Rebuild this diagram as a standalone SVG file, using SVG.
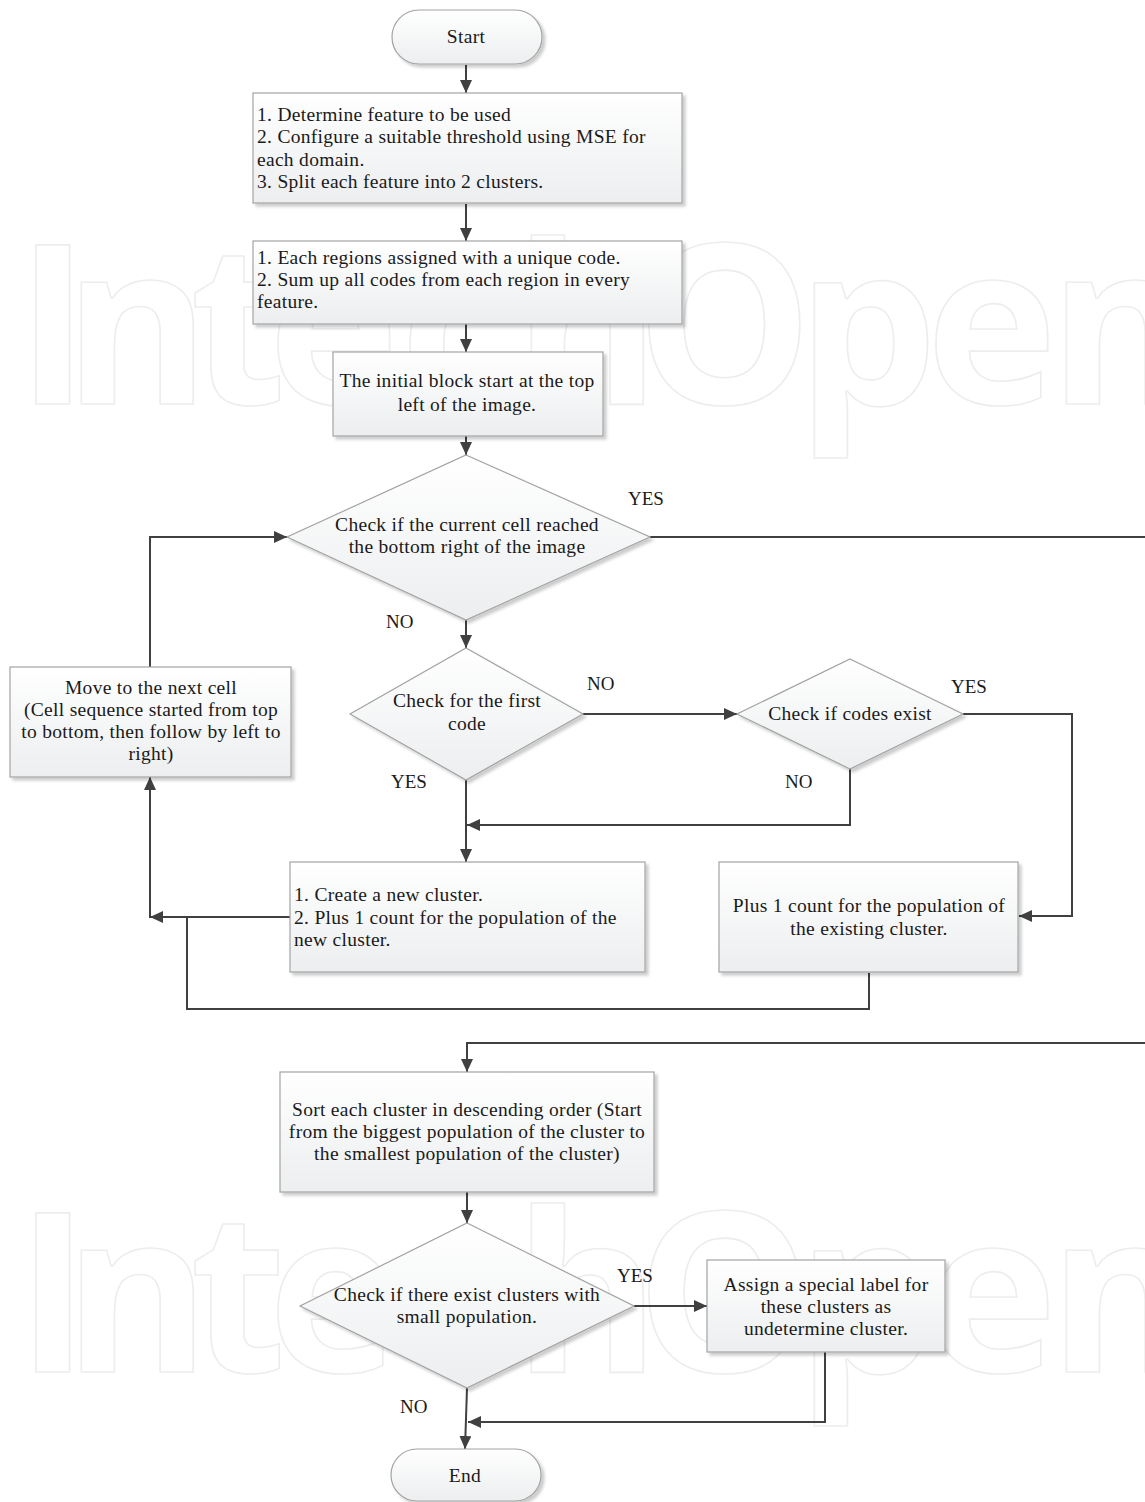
<svg xmlns="http://www.w3.org/2000/svg" width="1145" height="1502" viewBox="0 0 1145 1502">
<style>
.wm{font-family:"Open Sans","DejaVu Sans",sans-serif;font-weight:700;font-size:222px;fill:none;stroke:#ededed;stroke-width:1.6}
.node{fill:url(#g);stroke:#a3a3a3;stroke-width:1.2;filter:url(#sh)}
.t{font-family:"Liberation Serif","Times New Roman",serif;font-size:19.5px;letter-spacing:0.3px;fill:#1a1a1a}
.c{text-anchor:middle}
.lbl{font-family:"Liberation Serif","Times New Roman",serif;font-size:19px;fill:#1a1a1a}
.con{fill:none;stroke:#404040;stroke-width:2}
.arr{marker-end:url(#ah)}
</style>
<defs>
<linearGradient id="g" x1="0" y1="0" x2="0" y2="1">
<stop offset="0" stop-color="#ffffff"/>
<stop offset="1" stop-color="#eceeef"/>
</linearGradient>
<filter id="sh" x="-10%" y="-10%" width="130%" height="130%">
<feDropShadow dx="3" dy="3" stdDeviation="1.5" flood-color="#000" flood-opacity="0.2"/>
</filter>
<marker id="ah" markerUnits="userSpaceOnUse" markerWidth="14" markerHeight="12" refX="13" refY="6" orient="auto">
<path d="M0,0 L13,6 L0,12 z" fill="#404040"/>
</marker>
</defs>
<rect width="1145" height="1502" fill="#ffffff"/>
<g id="watermark">
<text class="wm" x="16 64 190 268 400 514 636 797 926 1049" y="404">IntechOpen</text>
<text class="wm" x="16 64 190 268 400 514 636 797 926 1049" y="1372">IntechOpen</text>
</g>
<g id="connectors">
<path class="con arr" d="M466,65 V93"/>
<path class="con arr" d="M466,204 V241"/>
<path class="con arr" d="M466,324 V352"/>
<path class="con arr" d="M466,436 V455"/>
<path class="con" d="M650,537 H1145"/>
<path class="con arr" d="M466,620 V648"/>
<path class="con arr" d="M583,714 H737"/>
<path class="con arr" d="M963,714 H1072 V916 H1019"/>
<path class="con arr" d="M850,769 V825 H467"/>
<path class="con arr" d="M466,780 V862"/>
<path class="con arr" d="M290,917 H150 V777"/>
<path class="con arr" d="M869,973 V1009 H187 V917 H150"/>
<path class="con arr" d="M150,667 V537 H287"/>
<path class="con arr" d="M1145,1043 H467 V1072"/>
<path class="con arr" d="M467,1192 V1223"/>
<path class="con arr" d="M634,1306 H707"/>
<path class="con arr" d="M825,1352 V1422 H468"/>
<path class="con arr" d="M467,1388 L465,1449"/>
</g>
<g id="start">
<rect class="node" x="392" y="10" width="150" height="54" rx="27" ry="27"/>
<text class="t c" x="466" y="43">Start</text>
</g>
<g id="box1">
<rect class="node" x="253" y="93" width="429" height="110"/>
<text class="t" x="257" y="121">1. Determine feature to be used</text>
<text class="t" x="257" y="143">2. Configure a suitable threshold using MSE for</text>
<text class="t" x="257" y="166">each domain.</text>
<text class="t" x="257" y="188">3. Split each feature into 2 clusters.</text>
</g>
<g id="box2">
<rect class="node" x="253" y="241" width="429" height="83"/>
<text class="t" x="257" y="264">1. Each regions assigned with a unique code.</text>
<text class="t" x="257" y="286">2. Sum up all codes from each region in every</text>
<text class="t" x="257" y="308">feature.</text>
</g>
<g id="box3">
<rect class="node" x="333" y="352" width="270" height="84"/>
<text class="t c" x="467" y="387">The initial block start at the top</text>
<text class="t c" x="467" y="411">left of the image.</text>
</g>
<g id="d1">
<polygon class="node" points="466,455 650,537 466,620 287,537"/>
<text class="t c" x="467" y="531">Check if the current cell reached</text>
<text class="t c" x="467" y="553">the bottom right of the image</text>
</g>
<g id="lbl1">
<text class="lbl" x="628" y="505">YES</text>
<text class="lbl" x="386" y="628">NO</text>
</g>
<g id="move">
<rect class="node" x="10" y="667" width="281" height="110"/>
<text class="t c" x="151" y="694">Move to the next cell</text>
<text class="t c" x="151" y="716">(Cell sequence started from top</text>
<text class="t c" x="151" y="738">to bottom, then follow by left to</text>
<text class="t c" x="151" y="760">right)</text>
</g>
<g id="d2">
<polygon class="node" points="466,648 583,714 466,780 350,714"/>
<text class="t c" x="467" y="707">Check for the first</text>
<text class="t c" x="467" y="730">code</text>
</g>
<g id="lbl2">
<text class="lbl" x="587" y="690">NO</text>
<text class="lbl" x="391" y="788">YES</text>
</g>
<g id="d3">
<polygon class="node" points="850,659 963,714 850,769 737,714"/>
<text class="t c" x="850" y="720">Check if codes exist</text>
</g>
<g id="lbl3">
<text class="lbl" x="951" y="693">YES</text>
<text class="lbl" x="785" y="788">NO</text>
</g>
<g id="create">
<rect class="node" x="290" y="862" width="355" height="110"/>
<text class="t" x="294" y="901">1. Create a new cluster.</text>
<text class="t" x="294" y="924">2. Plus 1 count for the population of the</text>
<text class="t" x="294" y="946">new cluster.</text>
</g>
<g id="plus">
<rect class="node" x="719" y="862" width="299" height="110"/>
<text class="t c" x="869" y="912">Plus 1 count for the population of</text>
<text class="t c" x="869" y="935">the existing cluster.</text>
</g>
<g id="sort">
<rect class="node" x="280" y="1072" width="374" height="120"/>
<text class="t c" x="467" y="1116">Sort each cluster in descending order (Start</text>
<text class="t c" x="467" y="1138">from the biggest population of the cluster to</text>
<text class="t c" x="467" y="1160">the smallest population of the cluster)</text>
</g>
<g id="d4">
<polygon class="node" points="467,1223 634,1306 467,1388 300,1306"/>
<text class="t c" x="467" y="1301">Check if there exist clusters with</text>
<text class="t c" x="467" y="1323">small population.</text>
</g>
<g id="lbl4">
<text class="lbl" x="617" y="1282">YES</text>
<text class="lbl" x="400" y="1413">NO</text>
</g>
<g id="assign">
<rect class="node" x="707" y="1260" width="238" height="92"/>
<text class="t c" x="826" y="1291">Assign a special label for</text>
<text class="t c" x="826" y="1313">these clusters as</text>
<text class="t c" x="826" y="1335">undetermine cluster.</text>
</g>
<g id="end">
<rect class="node" x="391" y="1449" width="150" height="52" rx="26" ry="26"/>
<text class="t c" x="465" y="1482">End</text>
</g>
</svg>
